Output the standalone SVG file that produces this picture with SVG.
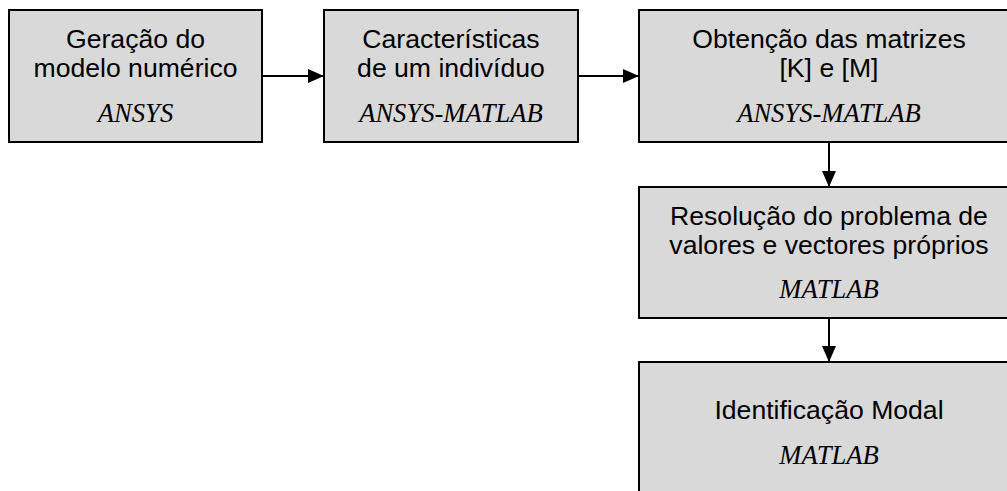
<svg xmlns="http://www.w3.org/2000/svg" width="1007" height="491" viewBox="0 0 1007 491">
<style>
.box{fill:#d9d9d9;stroke:#000;stroke-width:2}
.t{font-family:"Liberation Sans",Arial,sans-serif;font-size:26.6px;text-anchor:middle;fill:#000}
.i{font-family:"Liberation Serif","Times New Roman",serif;font-style:italic;font-size:26.6px;text-anchor:middle;fill:#000}
.c{stroke:#000;stroke-width:2;fill:none}
</style>
<defs>
<marker id="a" viewBox="0 0 16 14" refX="16" refY="7" markerWidth="16" markerHeight="14" markerUnits="userSpaceOnUse" orient="auto">
<path d="M0,0 L16,7 L0,14 Z" fill="#000"/>
</marker>
</defs>
<g id="n1">
<rect class="box" x="9" y="10" width="253" height="132"/>
<text class="t" x="135.5" y="48">Geração do</text>
<text class="t" x="135.5" y="77">modelo numérico</text>
<text class="i" x="135.5" y="122">ANSYS</text>
</g>
<g id="n2">
<rect class="box" x="324" y="10" width="254" height="132"/>
<text class="t" x="451" y="48">Características</text>
<text class="t" x="451" y="77">de um indivíduo</text>
<text class="i" x="451" y="122">ANSYS-MATLAB</text>
</g>
<g id="n3">
<rect class="box" x="639" y="10" width="380" height="132"/>
<text class="t" x="829" y="48">Obtenção das matrizes</text>
<text class="t" x="829" y="77">[K] e [M]</text>
<text class="i" x="829" y="122">ANSYS-MATLAB</text>
</g>
<g id="n4">
<rect class="box" x="639" y="187" width="380" height="131"/>
<text class="t" x="829" y="225">Resolução do problema de</text>
<text class="t" x="829" y="254">valores e vectores próprios</text>
<text class="i" x="829" y="298">MATLAB</text>
</g>
<g id="n5">
<rect class="box" x="639" y="362" width="380" height="140"/>
<text class="t" x="829" y="419">Identificação Modal</text>
<text class="i" x="829" y="464">MATLAB</text>
</g>
<g id="connectors">
<line class="c" x1="262" y1="76" x2="324" y2="76" marker-end="url(#a)"/>
<line class="c" x1="578" y1="76" x2="639" y2="76" marker-end="url(#a)"/>
<line class="c" x1="829" y1="142" x2="829" y2="187" marker-end="url(#a)"/>
<line class="c" x1="829" y1="318" x2="829" y2="362" marker-end="url(#a)"/>
</g>
</svg>
